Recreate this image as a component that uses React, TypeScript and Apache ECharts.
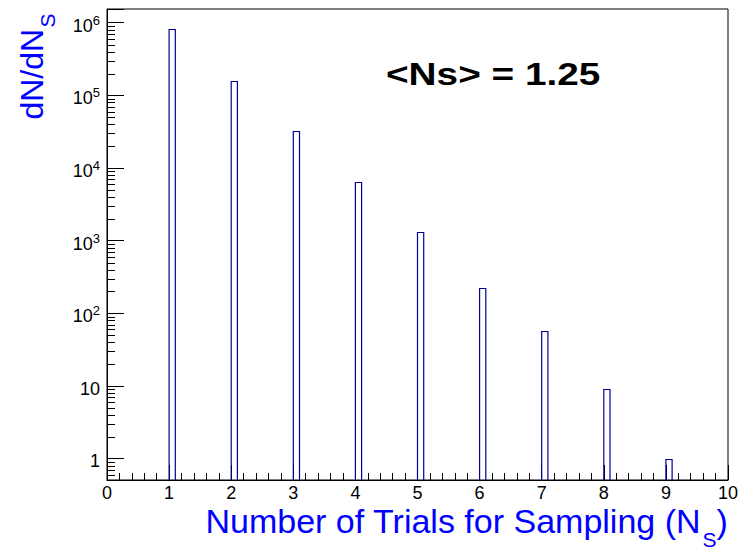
import React, { useEffect, useRef } from "react";
import * as echarts from "echarts";

// ---- data ----
const NS_VALUES = [1, 2, 3, 4, 5, 6, 7, 8, 9];
const COUNTS = [8.1e5, 1.59e5, 3.23e4, 6.4e3, 1.3e3, 223, 58, 9, 1];
const BIN_WIDTH = 0.1;
const X_MIN = 0;
const X_MAX = 10;
const Y_MIN = 0.509;
const Y_MAX = 1.545e6;
const MINOR_DECADES = [0.1, 1, 10, 100, 1000, 10000, 100000];
const MINOR_MULTIPLIERS = [2, 3, 4, 5, 6, 7, 8, 9];
const ANNOTATION = "<Ns> = 1.25";
const X_TITLE = "Number of Trials for Sampling (N";
const Y_TITLE = "dN/dN";
const SUB = "S";

const FONT = "'Liberation Sans', Arial, Helvetica, sans-serif";
const BAR_COLOR = "#000099";
const TITLE_COLOR = "#0000ff";

export default function App() {
  const ref = useRef<HTMLDivElement>(null);
  useEffect(() => {
    if (!ref.current) return;
    const chart = echarts.init(ref.current, undefined, { renderer: "svg" });

    const minorTicks: number[][] = [];
    MINOR_DECADES.forEach((d) =>
      MINOR_MULTIPLIERS.forEach((m) => {
        const v = d * m;
        if (v >= Y_MIN && v <= Y_MAX) minorTicks.push([X_MIN, v]);
      })
    );

    const barData = NS_VALUES.map((n, i) => [n, COUNTS[i]]);

    chart.setOption({
      animation: false,
      backgroundColor: "#ffffff",
      textStyle: { fontFamily: FONT },
      grid: {
        left: 107,
        right: 25,
        top: 9,
        bottom: 70,
        show: true,
        borderColor: "#000",
        borderWidth: 1,
        backgroundColor: "transparent",
        containLabel: false,
        outerBoundsMode: "none",
      },
      xAxis: {
        type: "value",
        min: X_MIN,
        max: X_MAX,
        interval: 1,
        axisLine: { show: true, lineStyle: { color: "#000", width: 1 } },
        axisTick: { show: true, inside: true, length: 15, lineStyle: { color: "#000", width: 1 } },
        minorTick: { show: true, splitNumber: 5, length: 7, lineStyle: { color: "#000", width: 1 } },
        splitLine: { show: false },
        minorSplitLine: { show: false },
        axisLabel: { fontSize: 18, color: "#000", margin: 4, fontFamily: FONT },
      },
      yAxis: {
        type: "log",
        logBase: 10,
        min: Y_MIN,
        max: Y_MAX,
        axisLine: { show: true, lineStyle: { color: "#000", width: 1 } },
        axisTick: { show: true, inside: true, length: 17, lineStyle: { color: "#000", width: 1 } },
        splitLine: { show: false },
        axisLabel: {
          margin: 7,
          color: "#000",
          fontFamily: FONT,
          showMinLabel: true,
          showMaxLabel: true,
          formatter: (v: number) => {
            const e = Math.log10(v);
            const n = Math.round(e);
            if (Math.abs(e - n) > 1e-6) return "";
            if (n === 0) return "{p|1}";
            if (n === 1) return "{p|10}";
            return `{b|10}{s|${n}}`;
          },
          rich: {
            p: { fontSize: 18, fontFamily: FONT, color: "#000", padding: [5, 0, 0, 0] },
            b: { fontSize: 18, fontFamily: FONT, color: "#000", lineHeight: 24, padding: [3, 0, 0, 0], verticalAlign: "bottom" },
            s: { fontSize: 13, fontFamily: FONT, color: "#000", lineHeight: 13, padding: [3, 0, 0, 0], verticalAlign: "top" },
          },
        },
      },
      series: [
        {
          type: "custom",
          name: "minorTicks",
          data: minorTicks,
          clip: false,
          silent: true,
          renderItem: (params: any, api: any) => {
            const p = api.coord([api.value(0), api.value(1)]);
            const y = Math.round(p[1]) + 0.5;
            return {
              type: "line",
              shape: { x1: p[0], y1: y, x2: p[0] + 8, y2: y },
              style: { stroke: "#000", lineWidth: 1 },
            };
          },
        },
        {
          type: "custom",
          name: "hist",
          data: barData,
          clip: true,
          z: 5,
          renderItem: (params: any, api: any) => {
            const x0 = api.value(0);
            const v = api.value(1);
            const pTop = api.coord([x0, v]);
            const pEnd = api.coord([x0 + BIN_WIDTH, Y_MIN]);
            const l = pTop[0];
            const r = pEnd[0];
            const t = Math.round(pTop[1]) + 0.5;
            const b = pEnd[1];
            return {
              type: "polyline",
              shape: { points: [[l, b], [l, t], [r, t], [r, b]] },
              style: { fill: "none", stroke: BAR_COLOR, lineWidth: 1.2 },
            };
          },
        },
      ],
      graphic: [
        {
          type: "text",
          x: 386,
          y: 74.3,
          scaleX: 1.25,
          style: {
            text: ANNOTATION,
            fontSize: 31,
            fontWeight: "bold",
            fontFamily: FONT,
            fill: "#000",
            align: "left",
            verticalAlign: "middle",
          },
        },
        {
          type: "text",
          x: 205.5,
          y: 521.2,
          style: { text: X_TITLE, fontSize: 34, fontFamily: FONT, fill: TITLE_COLOR, align: "left", verticalAlign: "middle" },
        },
        {
          type: "text",
          x: 702.5,
          y: 539.2,
          style: { text: SUB, fontSize: 21, fontFamily: FONT, fill: TITLE_COLOR, align: "left", verticalAlign: "middle" },
        },
        {
          type: "text",
          x: 716.5,
          y: 521.2,
          style: { text: ")", fontSize: 34, fontFamily: FONT, fill: TITLE_COLOR, align: "left", verticalAlign: "middle" },
        },
        {
          type: "text",
          x: 31.9,
          y: 119.6,
          rotation: Math.PI / 2,
          style: { text: Y_TITLE, fontSize: 32, fontFamily: FONT, fill: TITLE_COLOR, align: "left", verticalAlign: "middle" },
        },
        {
          type: "text",
          x: 47.7,
          y: 27.5,
          rotation: Math.PI / 2,
          style: { text: SUB, fontSize: 21, fontFamily: FONT, fill: TITLE_COLOR, align: "left", verticalAlign: "middle" },
        },
      ],
    });
    return () => chart.dispose();
  }, []);

  return (
    <div
      ref={ref}
      style={{ position: "fixed", left: 0, top: 0, width: 753, height: 550, background: "#fff" }}
    />
  );
}
